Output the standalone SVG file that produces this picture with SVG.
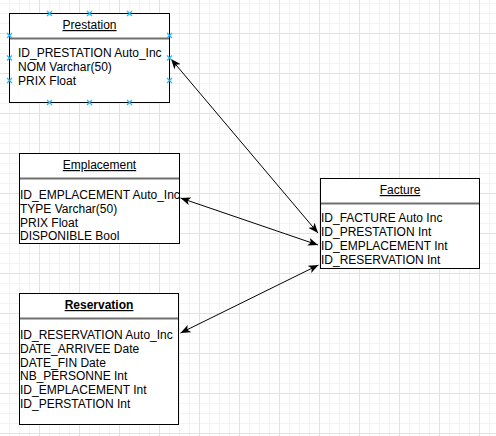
<svg xmlns="http://www.w3.org/2000/svg" width="496" height="436" viewBox="0 0 496 436">
  <defs>
    <pattern id="grid" x="-1" y="-7" width="40" height="40" patternUnits="userSpaceOnUse">
      <path d="M10.5 0V40M20.5 0V40M30.5 0V40M0 10.5H40M0 20.5H40M0 30.5H40" stroke="#f3f3f3" stroke-width="1" fill="none"/>
      <path d="M0.5 0V40M0 0.5H40" stroke="#e2e2e2" stroke-width="1" fill="none"/>
    </pattern>
    <marker id="arr" viewBox="0 0 10 8" refX="10" refY="4" markerWidth="10" markerHeight="8" markerUnits="userSpaceOnUse" orient="auto-start-reverse">
      <path d="M0 0L10 4L0 8L2.5 4Z" fill="#000"/>
    </marker>
    <path id="pt" d="M-2.5 -2.5L2.5 2.5M-2.5 2.5L2.5 -2.5" stroke="#29b6f2" stroke-width="1.2" fill="none"/>
  </defs>
  <style>
    .box { fill: #fff; stroke: #000; stroke-width: 1; }
    .sep { stroke: #707070; stroke-width: 2; }
    text { font-family: "Liberation Sans", Arial, sans-serif; font-size: 12px; fill: #000; }
    .title { text-anchor: middle; text-decoration: underline; }
    .bold { font-weight: bold; }
    .conn { stroke: #000; stroke-width: 1; fill: none; marker-start: url(#arr); marker-end: url(#arr); }
  </style>
  <rect width="496" height="436" fill="#fff"/>
  <rect width="496" height="436" fill="url(#grid)"/>

  <g id="connectors">
    <path class="conn" d="M171 59L318 233"/>
    <path class="conn" d="M180.5 198L318 245"/>
    <path class="conn" d="M180.5 333L318.5 265"/>
  </g>

  <g id="prestation">
    <rect class="box" x="9.5" y="13.5" width="160" height="89"/>
    <line class="sep" x1="10" y1="38.5" x2="169" y2="38.5"/>
    <text class="title" x="89.5" y="29">Prestation</text>
    <text x="18" y="57">ID_PRESTATION Auto_Inc</text>
    <text x="18" y="71">NOM Varchar(50)</text>
    <text x="18" y="85">PRIX Float</text>
    <g id="prestation-points">
      <use href="#pt" x="49.5" y="13.5"/>
      <use href="#pt" x="89.5" y="13.5"/>
      <use href="#pt" x="129.5" y="13.5"/>
      <use href="#pt" x="49.5" y="102.5"/>
      <use href="#pt" x="89.5" y="102.5"/>
      <use href="#pt" x="129.5" y="102.5"/>
      <use href="#pt" x="9.5" y="35.5"/>
      <use href="#pt" x="9.5" y="58"/>
      <use href="#pt" x="9.5" y="80.5"/>
      <use href="#pt" x="169.5" y="35.5"/>
      <use href="#pt" x="169.5" y="58"/>
      <use href="#pt" x="169.5" y="80.5"/>
    </g>
  </g>

  <g id="emplacement">
    <rect class="box" x="19.5" y="153.5" width="160" height="90"/>
    <line class="sep" x1="20" y1="178.5" x2="179" y2="178.5"/>
    <text class="title" x="99.5" y="169">Emplacement</text>
    <text x="20" y="199">ID_EMPLACEMENT Auto_Inc</text>
    <text x="20" y="213">TYPE Varchar(50)</text>
    <text x="20" y="226.5">PRIX Float</text>
    <text x="20" y="240">DISPONIBLE Bool</text>
  </g>

  <g id="reservation">
    <rect class="box" x="19.5" y="293.5" width="159" height="131"/>
    <line class="sep" x1="20" y1="318.5" x2="178" y2="318.5"/>
    <text class="title bold" x="99" y="309">Reservation</text>
    <text x="20" y="339">ID_RESERVATION Auto_Inc</text>
    <text x="20" y="352.8">DATE_ARRIVEE Date</text>
    <text x="20" y="366.6">DATE_FIN Date</text>
    <text x="20" y="380.4">NB_PERSONNE Int</text>
    <text x="20" y="394.2">ID_EMPLACEMENT Int</text>
    <text x="20" y="408">ID_PERSTATION Int</text>
  </g>

  <g id="facture">
    <rect class="box" x="320.5" y="178.5" width="159" height="90"/>
    <line class="sep" x1="321" y1="203.5" x2="479" y2="203.5"/>
    <text class="title" x="400" y="194">Facture</text>
    <text x="321" y="222">ID_FACTURE Auto Inc</text>
    <text x="321" y="236">ID_PRESTATION Int</text>
    <text x="321" y="250">ID_EMPLACEMENT Int</text>
    <text x="321" y="264">ID_RESERVATION Int</text>
  </g>
</svg>
